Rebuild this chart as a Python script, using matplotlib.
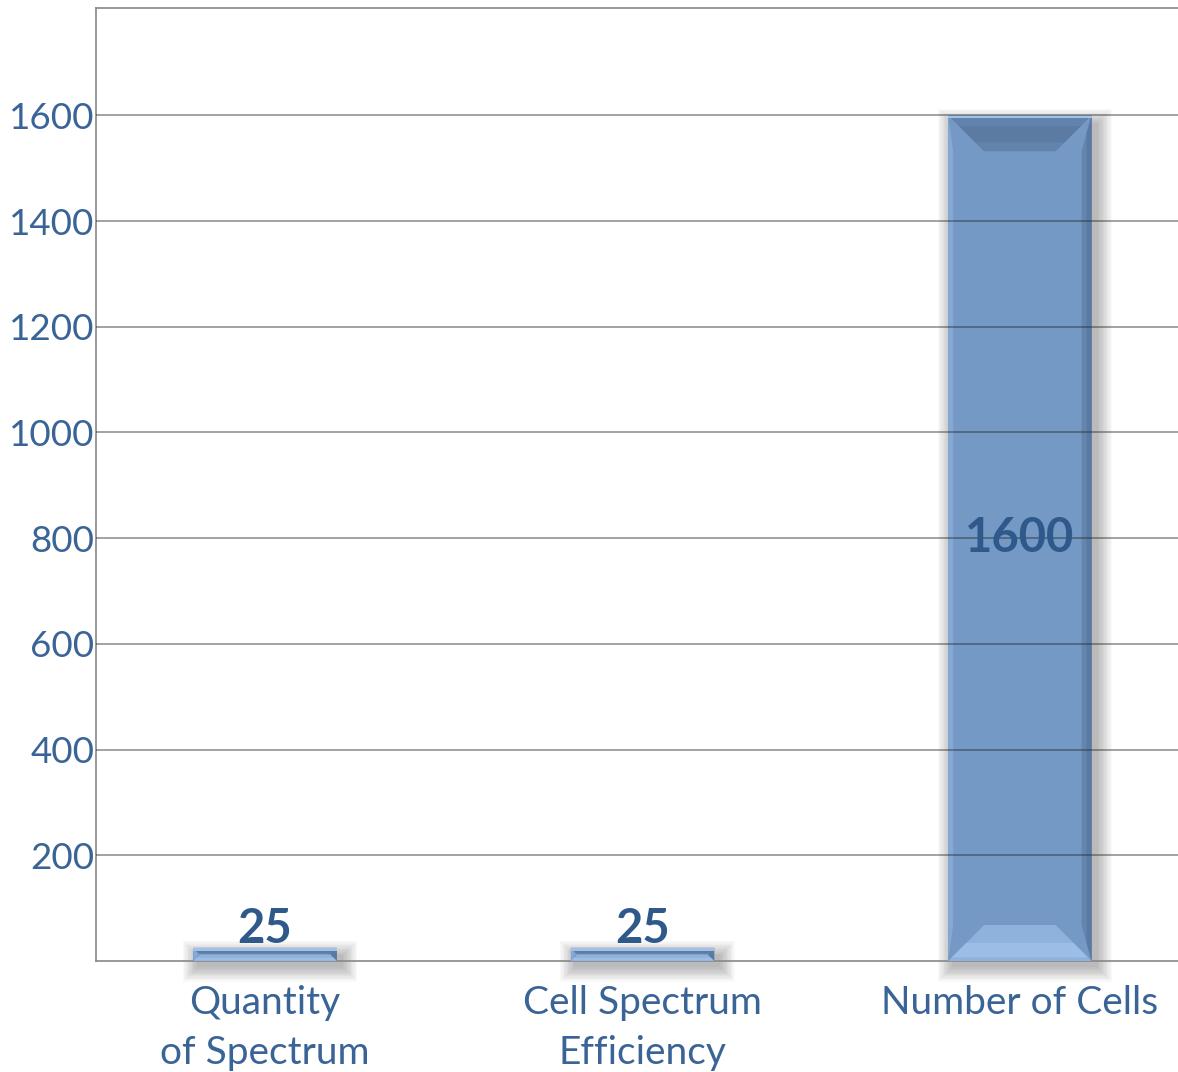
import numpy as np
import matplotlib
matplotlib.use('Agg')
import matplotlib.pyplot as plt
from matplotlib.patches import Rectangle, Polygon

plt.rcParams['font.family'] = ['Lato', 'DejaVu Sans']

categories = ['Quantity\nof Spectrum', 'Cell Spectrum\nEfficiency', 'Number of Cells']
values = [25, 25, 1600]
yticks = [200, 400, 600, 800, 1000, 1200, 1400, 1600]

TEXT = '#3a6496'
VALUE = '#30598b'
MAIN = '#7399c4'

fig = plt.figure(figsize=(11.78, 10.72), dpi=100)
ax = fig.add_axes([96 / 1178, 1 - 961 / 1072, 1 - 96 / 1178, (961 - 8) / 1072])
ax.set_xlim(-0.448, 2.419)
ax.set_ylim(0, 1803)

x = np.arange(len(categories))
width = 0.38

# pixel -> data conversions
bbox = ax.get_window_extent()
ppx = bbox.width / (ax.get_xlim()[1] - ax.get_xlim()[0])
ppy = bbox.height / (ax.get_ylim()[1] - ax.get_ylim()[0])

bars = ax.bar(x, values, width=width, color=MAIN, zorder=2, clip_on=False)

for b in bars:
    x0 = b.get_x()
    w = b.get_width()
    h = b.get_height()
    x1 = x0 + w
    # soft shadow, shifted right and down
    for k in range(12):
        grow = (k + 1) * 1.3
        sh = Rectangle((x0 - grow / ppx + 5 / ppx, -grow / ppy - 5 / ppy),
                       w + 2 * grow / ppx, h + 2 * grow / ppy - 4 / ppy,
                       facecolor='black', edgecolor='none', alpha=0.022,
                       zorder=1, clip_on=False)
        ax.add_patch(sh)
    bev_px = min(36, h * ppy / 2)
    by = bev_px / ppy
    bx = bev_px / ppx
    ex = 10 / ppx
    lx = 5 / ppx
    # left and right edges
    ax.add_patch(Polygon([(x0, 0), (x0 + lx, by), (x0 + lx, h - by), (x0, h)],
                         closed=True, facecolor='#86a8d4', edgecolor='none', zorder=2.2, clip_on=False))
    ax.add_patch(Polygon([(x1, 0), (x1 - ex, by), (x1 - ex, h - by), (x1, h)],
                         closed=True, facecolor='#6485ae', edgecolor='none', zorder=2.2, clip_on=False))
    ax.add_patch(Polygon([(x1, 0), (x1 - ex / 2, by / 2), (x1 - ex / 2, h - by / 2), (x1, h)],
                         closed=True, facecolor='#5a7aa2', edgecolor='none', zorder=2.25, clip_on=False))
    # top bevel (darker)
    ax.add_patch(Polygon([(x0, h), (x1, h), (x1 - bx, h - by), (x0 + bx, h - by)],
                         closed=True, facecolor='#6283ab', edgecolor='none', zorder=2.3, clip_on=False))
    ax.add_patch(Polygon([(x0 + bx * 0.3, h - by * 0.3), (x1 - bx * 0.3, h - by * 0.3),
                          (x1 - bx * 0.75, h - by * 0.75), (x0 + bx * 0.75, h - by * 0.75)],
                         closed=True, facecolor='#5b7ba2', edgecolor='none', zorder=2.32, clip_on=False))
    # bottom bevel (lighter)
    ax.add_patch(Polygon([(x0, 0), (x1, 0), (x1 - bx, by), (x0 + bx, by)],
                         closed=True, facecolor='#8fb2dd', edgecolor='none', zorder=2.3, clip_on=False))
    ax.add_patch(Polygon([(x0 + bx * 0.1, by * 0.1), (x1 - bx * 0.1, by * 0.1),
                          (x1 - bx * 0.5, by * 0.5), (x0 + bx * 0.5, by * 0.5)],
                         closed=True, facecolor='#9bbde6', edgecolor='none', zorder=2.32, clip_on=False))
    # thin highlight on top rim
    ax.add_patch(Rectangle((x0, h - 3 / ppy), w, 3 / ppy, facecolor='#a3c0e6',
                           edgecolor='none', zorder=2.4, clip_on=False))

# gridlines drawn over the bars
ax.set_yticks(yticks)
ax.yaxis.grid(True, color='#2a2a2a', alpha=0.55, linewidth=1.1, zorder=3)
ax.set_axisbelow(False)
ax.xaxis.grid(False)

# value labels
for xi, v in zip(x, values):
    if v > 200:
        ax.text(xi, v / 2, str(v), ha='center', va='center', fontsize=34,
                fontweight='bold', color=VALUE, zorder=5)
    else:
        ax.text(xi, v + 5 / ppy, str(v), ha='center', va='baseline', fontsize=34,
                fontweight='bold', color=VALUE, zorder=5)

ax.set_xticks(x)
ax.set_xticklabels(categories, fontsize=28, color=TEXT, linespacing=1.5)
ax.set_yticklabels([str(t) for t in yticks], fontsize=26.5, color=TEXT)
ax.tick_params(axis='both', length=0)
ax.tick_params(axis='x', pad=17)
ax.tick_params(axis='y', pad=1)

for s in ['left', 'top', 'bottom']:
    ax.spines[s].set_color('#888888')
    ax.spines[s].set_linewidth(1.2)
ax.spines['right'].set_visible(False)
ax.spines['bottom'].set_zorder(1.5)

fig.savefig('out.png', dpi=100)
